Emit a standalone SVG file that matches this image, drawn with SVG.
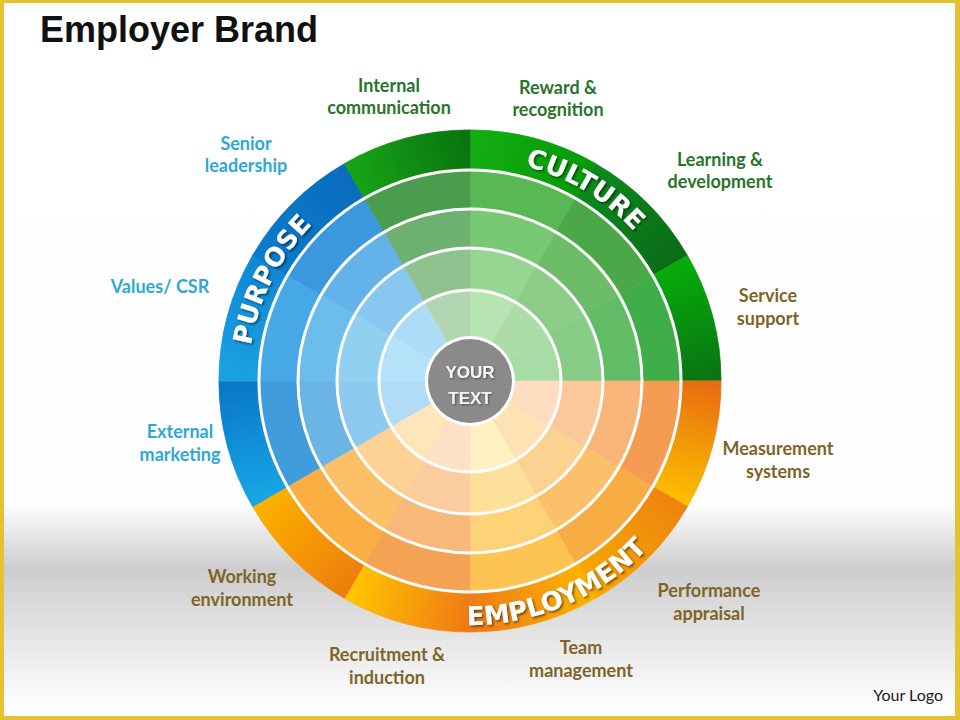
<svg xmlns="http://www.w3.org/2000/svg" xmlns:xlink="http://www.w3.org/1999/xlink" width="960" height="720" viewBox="0 0 960 720">
<style>
.lbl{font-family:Lato,"Liberation Sans",sans-serif;font-weight:700;font-size:18px;text-anchor:middle}
.g{fill:#2a732c}.b{fill:#2ea8d6}.o{fill:#7f6427}
.arc{font-family:"DejaVu Sans","Liberation Sans",sans-serif;font-weight:700;font-size:26px;fill:#fff;filter:url(#sh)}
.ring{fill:none;stroke:#fff;stroke-width:3}
.ctr{font-family:"Liberation Sans",Arial,sans-serif;font-weight:700;font-size:17px;fill:#f4f4f4;text-anchor:middle;filter:url(#sh2)}
</style>
<defs>
<filter id="sh" x="-20%" y="-20%" width="140%" height="140%"><feDropShadow dx="1.5" dy="1.5" stdDeviation="1" flood-color="#000" flood-opacity="0.55"/></filter>
<filter id="sh2" x="-20%" y="-20%" width="140%" height="140%"><feDropShadow dx="1" dy="1" stdDeviation="0.8" flood-color="#000" flood-opacity="0.45"/></filter>
<linearGradient id="bg" x1="0" y1="0" x2="0" y2="720" gradientUnits="userSpaceOnUse">
<stop offset="0" stop-color="#fff"/><stop offset="0.70" stop-color="#fefefe"/><stop offset="0.79" stop-color="#cdcdcd"/><stop offset="0.97" stop-color="#fbfbfb"/><stop offset="1" stop-color="#fff"/>
</linearGradient>
<radialGradient id="s0" cx="470" cy="381" r="251" gradientUnits="userSpaceOnUse"><stop offset="0" stop-color="#b6e4b2"/><stop offset=".3625" stop-color="#b6e4b2"/><stop offset=".3625" stop-color="#96d692"/><stop offset=".53" stop-color="#96d692"/><stop offset=".53" stop-color="#78c874"/><stop offset=".685" stop-color="#78c874"/><stop offset=".685" stop-color="#58b854"/><stop offset="1" stop-color="#58b854"/></radialGradient>
<radialGradient id="s1" cx="470" cy="381" r="251" gradientUnits="userSpaceOnUse"><stop offset="0" stop-color="#acdca8"/><stop offset=".3625" stop-color="#acdca8"/><stop offset=".3625" stop-color="#8ccc88"/><stop offset=".53" stop-color="#8ccc88"/><stop offset=".53" stop-color="#6cbc68"/><stop offset=".685" stop-color="#6cbc68"/><stop offset=".685" stop-color="#4aa848"/><stop offset="1" stop-color="#4aa848"/></radialGradient>
<radialGradient id="s2" cx="470" cy="381" r="251" gradientUnits="userSpaceOnUse"><stop offset="0" stop-color="#a8dca6"/><stop offset=".3625" stop-color="#a8dca6"/><stop offset=".3625" stop-color="#86cc86"/><stop offset=".53" stop-color="#86cc86"/><stop offset=".53" stop-color="#62bc66"/><stop offset=".685" stop-color="#62bc66"/><stop offset=".685" stop-color="#40ae48"/><stop offset="1" stop-color="#40ae48"/></radialGradient>
<radialGradient id="s3" cx="470" cy="381" r="251" gradientUnits="userSpaceOnUse"><stop offset="0" stop-color="#fddcc0"/><stop offset=".3625" stop-color="#fddcc0"/><stop offset=".3625" stop-color="#fbc89a"/><stop offset=".53" stop-color="#fbc89a"/><stop offset=".53" stop-color="#f9b47a"/><stop offset=".685" stop-color="#f9b47a"/><stop offset=".685" stop-color="#f59c52"/><stop offset="1" stop-color="#f59c52"/></radialGradient>
<radialGradient id="s4" cx="470" cy="381" r="251" gradientUnits="userSpaceOnUse"><stop offset="0" stop-color="#fee2b4"/><stop offset=".3625" stop-color="#fee2b4"/><stop offset=".3625" stop-color="#fcd290"/><stop offset=".53" stop-color="#fcd290"/><stop offset=".53" stop-color="#fac06a"/><stop offset=".685" stop-color="#fac06a"/><stop offset=".685" stop-color="#f8ac44"/><stop offset="1" stop-color="#f8ac44"/></radialGradient>
<radialGradient id="s5" cx="470" cy="381" r="251" gradientUnits="userSpaceOnUse"><stop offset="0" stop-color="#fff0c2"/><stop offset=".3625" stop-color="#fff0c2"/><stop offset=".3625" stop-color="#fee09a"/><stop offset=".53" stop-color="#fee09a"/><stop offset=".53" stop-color="#fed276"/><stop offset=".685" stop-color="#fed276"/><stop offset=".685" stop-color="#fdc454"/><stop offset="1" stop-color="#fdc454"/></radialGradient>
<radialGradient id="s6" cx="470" cy="381" r="251" gradientUnits="userSpaceOnUse"><stop offset="0" stop-color="#fde0c6"/><stop offset=".3625" stop-color="#fde0c6"/><stop offset=".3625" stop-color="#fbcc9e"/><stop offset=".53" stop-color="#fbcc9e"/><stop offset=".53" stop-color="#f8b87a"/><stop offset=".685" stop-color="#f8b87a"/><stop offset=".685" stop-color="#f4a254"/><stop offset="1" stop-color="#f4a254"/></radialGradient>
<radialGradient id="s7" cx="470" cy="381" r="251" gradientUnits="userSpaceOnUse"><stop offset="0" stop-color="#fee6ba"/><stop offset=".3625" stop-color="#fee6ba"/><stop offset=".3625" stop-color="#fdd294"/><stop offset=".53" stop-color="#fdd294"/><stop offset=".53" stop-color="#fcc068"/><stop offset=".685" stop-color="#fcc068"/><stop offset=".685" stop-color="#fbae42"/><stop offset="1" stop-color="#fbae42"/></radialGradient>
<radialGradient id="s8" cx="470" cy="381" r="251" gradientUnits="userSpaceOnUse"><stop offset="0" stop-color="#b2dcf6"/><stop offset=".3625" stop-color="#b2dcf6"/><stop offset=".3625" stop-color="#8ecaef"/><stop offset=".53" stop-color="#8ecaef"/><stop offset=".53" stop-color="#6ab4e6"/><stop offset=".685" stop-color="#6ab4e6"/><stop offset=".685" stop-color="#419cdc"/><stop offset="1" stop-color="#419cdc"/></radialGradient>
<radialGradient id="s9" cx="470" cy="381" r="251" gradientUnits="userSpaceOnUse"><stop offset="0" stop-color="#b4e2f8"/><stop offset=".3625" stop-color="#b4e2f8"/><stop offset=".3625" stop-color="#92d0f2"/><stop offset=".53" stop-color="#92d0f2"/><stop offset=".53" stop-color="#6cbcec"/><stop offset=".685" stop-color="#6cbcec"/><stop offset=".685" stop-color="#46a8e6"/><stop offset="1" stop-color="#46a8e6"/></radialGradient>
<radialGradient id="s10" cx="470" cy="381" r="251" gradientUnits="userSpaceOnUse"><stop offset="0" stop-color="#acdcf6"/><stop offset=".3625" stop-color="#acdcf6"/><stop offset=".3625" stop-color="#88c8f0"/><stop offset=".53" stop-color="#88c8f0"/><stop offset=".53" stop-color="#64b2ea"/><stop offset=".685" stop-color="#64b2ea"/><stop offset=".685" stop-color="#3c98de"/><stop offset="1" stop-color="#3c98de"/></radialGradient>
<radialGradient id="s11" cx="470" cy="381" r="251" gradientUnits="userSpaceOnUse"><stop offset="0" stop-color="#b2d6b2"/><stop offset=".3625" stop-color="#b2d6b2"/><stop offset=".3625" stop-color="#90c290"/><stop offset=".53" stop-color="#90c290"/><stop offset=".53" stop-color="#6eb070"/><stop offset=".685" stop-color="#6eb070"/><stop offset=".685" stop-color="#4a9c4e"/><stop offset="1" stop-color="#4a9c4e"/></radialGradient>
<linearGradient id="b0" gradientUnits="userSpaceOnUse" x1="470" y1="150" x2="585.5" y2="181"><stop offset="0" stop-color="#12ae12"/><stop offset="1" stop-color="#069a08"/></linearGradient>
<linearGradient id="b1" gradientUnits="userSpaceOnUse" x1="585.5" y1="181" x2="670" y2="265.5"><stop offset="0" stop-color="#0c8a1c"/><stop offset="1" stop-color="#0b6c18"/></linearGradient>
<linearGradient id="b2" gradientUnits="userSpaceOnUse" x1="670" y1="265.5" x2="701" y2="381"><stop offset="0" stop-color="#06ac0a"/><stop offset="1" stop-color="#0a7412"/></linearGradient>
<linearGradient id="b3" gradientUnits="userSpaceOnUse" x1="701" y1="381" x2="670" y2="496.5"><stop offset="0" stop-color="#e86c12"/><stop offset="1" stop-color="#fcbe00"/></linearGradient>
<linearGradient id="b4" gradientUnits="userSpaceOnUse" x1="670" y1="496.5" x2="585.5" y2="581"><stop offset="0" stop-color="#ee840e"/><stop offset="1" stop-color="#f8a800"/></linearGradient>
<linearGradient id="b5" gradientUnits="userSpaceOnUse" x1="585.5" y1="581" x2="470" y2="612"><stop offset="0" stop-color="#fbb400"/><stop offset="1" stop-color="#ee7a18"/></linearGradient>
<linearGradient id="b6" gradientUnits="userSpaceOnUse" x1="470" y1="612" x2="354.5" y2="581"><stop offset="0" stop-color="#f07a14"/><stop offset="1" stop-color="#ffc400"/></linearGradient>
<linearGradient id="b7" gradientUnits="userSpaceOnUse" x1="354.5" y1="581" x2="270" y2="496.5"><stop offset="0" stop-color="#ee7e0c"/><stop offset="1" stop-color="#fdb000"/></linearGradient>
<linearGradient id="b8" gradientUnits="userSpaceOnUse" x1="270" y1="496.5" x2="239" y2="381"><stop offset="0" stop-color="#16a6e6"/><stop offset="1" stop-color="#0a76c8"/></linearGradient>
<linearGradient id="b9" gradientUnits="userSpaceOnUse" x1="239" y1="381" x2="270" y2="265.5"><stop offset="0" stop-color="#1aa2e4"/><stop offset="1" stop-color="#0e88d4"/></linearGradient>
<linearGradient id="b10" gradientUnits="userSpaceOnUse" x1="270" y1="265.5" x2="354.5" y2="181"><stop offset="0" stop-color="#0a7ccc"/><stop offset="1" stop-color="#0a6cbe"/></linearGradient>
<linearGradient id="b11" gradientUnits="userSpaceOnUse" x1="354.5" y1="181" x2="470" y2="150"><stop offset="0" stop-color="#16a416"/><stop offset="1" stop-color="#0a7410"/></linearGradient>
<path id="pPurpose" d="M253.7 430.95 A222 222 0 0 1 383.26 176.65"/>
<path id="pCulture" d="M435.27 161.73 A222 222 0 0 1 679.9 308.72"/>
<path id="pEmploy" d="M398.65 614.34 A244 244 0 0 0 687.4 491.78"/>
</defs>

<rect x="0" y="0" width="960" height="720" fill="#e4c232"/>
<rect x="4" y="3" width="951" height="713" fill="url(#bg)"/>

<text x="40" y="42" font-family="'Liberation Sans',Arial,sans-serif" font-weight="700" font-size="36" fill="#111">Employer Brand</text>

<g id="wheel">
<g id="sector-reward"><path d="M470 381 L470 130 A251 251 0 0 1 595.5 163.63 Z" fill="url(#s0)" stroke="url(#s0)" stroke-width="0.6"/><path d="M470 130 A251 251 0 0 1 595.5 163.63 L575.5 198.27 A211 211 0 0 0 470 170 Z" fill="url(#b0)" stroke="url(#b0)" stroke-width="0.6"/></g>
<g id="sector-learning"><path d="M470 381 L595.5 163.63 A251 251 0 0 1 687.37 255.5 Z" fill="url(#s1)" stroke="url(#s1)" stroke-width="0.6"/><path d="M595.5 163.63 A251 251 0 0 1 687.37 255.5 L652.73 275.5 A211 211 0 0 0 575.5 198.27 Z" fill="url(#b1)" stroke="url(#b1)" stroke-width="0.6"/></g>
<g id="sector-service"><path d="M470 381 L687.37 255.5 A251 251 0 0 1 721 381 Z" fill="url(#s2)" stroke="url(#s2)" stroke-width="0.6"/><path d="M687.37 255.5 A251 251 0 0 1 721 381 L681 381 A211 211 0 0 0 652.73 275.5 Z" fill="url(#b2)" stroke="url(#b2)" stroke-width="0.6"/></g>
<g id="sector-measurement"><path d="M470 381 L721 381 A251 251 0 0 1 687.37 506.5 Z" fill="url(#s3)" stroke="url(#s3)" stroke-width="0.6"/><path d="M721 381 A251 251 0 0 1 687.37 506.5 L652.73 486.5 A211 211 0 0 0 681 381 Z" fill="url(#b3)" stroke="url(#b3)" stroke-width="0.6"/></g>
<g id="sector-performance"><path d="M470 381 L687.37 506.5 A251 251 0 0 1 595.5 598.37 Z" fill="url(#s4)" stroke="url(#s4)" stroke-width="0.6"/><path d="M687.37 506.5 A251 251 0 0 1 595.5 598.37 L575.5 563.73 A211 211 0 0 0 652.73 486.5 Z" fill="url(#b4)" stroke="url(#b4)" stroke-width="0.6"/></g>
<g id="sector-team"><path d="M470 381 L595.5 598.37 A251 251 0 0 1 470 632 Z" fill="url(#s5)" stroke="url(#s5)" stroke-width="0.6"/><path d="M595.5 598.37 A251 251 0 0 1 470 632 L470 592 A211 211 0 0 0 575.5 563.73 Z" fill="url(#b5)" stroke="url(#b5)" stroke-width="0.6"/></g>
<g id="sector-recruitment"><path d="M470 381 L470 632 A251 251 0 0 1 344.5 598.37 Z" fill="url(#s6)" stroke="url(#s6)" stroke-width="0.6"/><path d="M470 632 A251 251 0 0 1 344.5 598.37 L364.5 563.73 A211 211 0 0 0 470 592 Z" fill="url(#b6)" stroke="url(#b6)" stroke-width="0.6"/></g>
<g id="sector-working"><path d="M470 381 L344.5 598.37 A251 251 0 0 1 252.63 506.5 Z" fill="url(#s7)" stroke="url(#s7)" stroke-width="0.6"/><path d="M344.5 598.37 A251 251 0 0 1 252.63 506.5 L287.27 486.5 A211 211 0 0 0 364.5 563.73 Z" fill="url(#b7)" stroke="url(#b7)" stroke-width="0.6"/></g>
<g id="sector-external"><path d="M470 381 L252.63 506.5 A251 251 0 0 1 219 381 Z" fill="url(#s8)" stroke="url(#s8)" stroke-width="0.6"/><path d="M252.63 506.5 A251 251 0 0 1 219 381 L259 381 A211 211 0 0 0 287.27 486.5 Z" fill="url(#b8)" stroke="url(#b8)" stroke-width="0.6"/></g>
<g id="sector-values"><path d="M470 381 L219 381 A251 251 0 0 1 252.63 255.5 Z" fill="url(#s9)" stroke="url(#s9)" stroke-width="0.6"/><path d="M219 381 A251 251 0 0 1 252.63 255.5 L287.27 275.5 A211 211 0 0 0 259 381 Z" fill="url(#b9)" stroke="url(#b9)" stroke-width="0.6"/></g>
<g id="sector-senior"><path d="M470 381 L252.63 255.5 A251 251 0 0 1 344.5 163.63 Z" fill="url(#s10)" stroke="url(#s10)" stroke-width="0.6"/><path d="M252.63 255.5 A251 251 0 0 1 344.5 163.63 L364.5 198.27 A211 211 0 0 0 287.27 275.5 Z" fill="url(#b10)" stroke="url(#b10)" stroke-width="0.6"/></g>
<g id="sector-internal"><path d="M470 381 L344.5 163.63 A251 251 0 0 1 470 130 Z" fill="url(#s11)" stroke="url(#s11)" stroke-width="0.6"/><path d="M344.5 163.63 A251 251 0 0 1 470 130 L470 170 A211 211 0 0 0 364.5 198.27 Z" fill="url(#b11)" stroke="url(#b11)" stroke-width="0.6"/></g>
<g id="rings">
<circle class="ring" cx="470" cy="381" r="91"/>
<circle class="ring" cx="470" cy="381" r="133"/>
<circle class="ring" cx="470" cy="381" r="172"/>
<circle class="ring" cx="470" cy="381" r="211"/>
</g>
</g>

<g id="band-labels">
<text class="arc"><textPath xlink:href="#pPurpose" href="#pPurpose" startOffset="50%" text-anchor="middle">PURPOSE</textPath></text>
<text class="arc"><textPath xlink:href="#pCulture" href="#pCulture" startOffset="50%" text-anchor="middle">CULTURE</textPath></text>
<text class="arc"><textPath xlink:href="#pEmploy" href="#pEmploy" startOffset="50%" text-anchor="middle">EMPLOYMENT</textPath></text>
</g>

<g id="center">
<circle cx="470" cy="381" r="45" fill="#fff"/>
<circle cx="470" cy="381" r="42" fill="#8a8a8a"/>
<text class="ctr" x="470" y="378">YOUR</text>
<text class="ctr" x="470" y="404">TEXT</text>
</g>

<g id="labels">
<g id="lbl-internal"><text class="lbl g" x="389" y="92">Internal</text><text class="lbl g" x="389" y="114">communication</text></g>
<g id="lbl-reward"><text class="lbl g" x="558" y="94">Reward &amp;</text><text class="lbl g" x="558" y="116">recognition</text></g>
<g id="lbl-learning"><text class="lbl g" x="720" y="166">Learning &amp;</text><text class="lbl g" x="720" y="188">development</text></g>
<g id="lbl-service"><text class="lbl o" x="768" y="302">Service</text><text class="lbl o" x="768" y="325">support</text></g>
<g id="lbl-measurement"><text class="lbl o" x="778" y="455">Measurement</text><text class="lbl o" x="778" y="478">systems</text></g>
<g id="lbl-performance"><text class="lbl o" x="709" y="597">Performance</text><text class="lbl o" x="709" y="620">appraisal</text></g>
<g id="lbl-team"><text class="lbl o" x="581" y="654">Team</text><text class="lbl o" x="581" y="677">management</text></g>
<g id="lbl-recruitment"><text class="lbl o" x="387" y="661">Recruitment &amp;</text><text class="lbl o" x="387" y="684">induction</text></g>
<g id="lbl-working"><text class="lbl o" x="242" y="583">Working</text><text class="lbl o" x="242" y="606">environment</text></g>
<g id="lbl-external"><text class="lbl b" x="180" y="438">External</text><text class="lbl b" x="180" y="461">marketing</text></g>
<g id="lbl-values"><text class="lbl b" x="160" y="293">Values/ CSR</text></g>
<g id="lbl-senior"><text class="lbl b" x="246" y="150">Senior</text><text class="lbl b" x="246" y="172">leadership</text></g>
</g>

<text x="943" y="701" font-family="Lato,'Liberation Sans',sans-serif" font-size="16" fill="#1a1a1a" text-anchor="end">Your Logo</text>
</svg>
